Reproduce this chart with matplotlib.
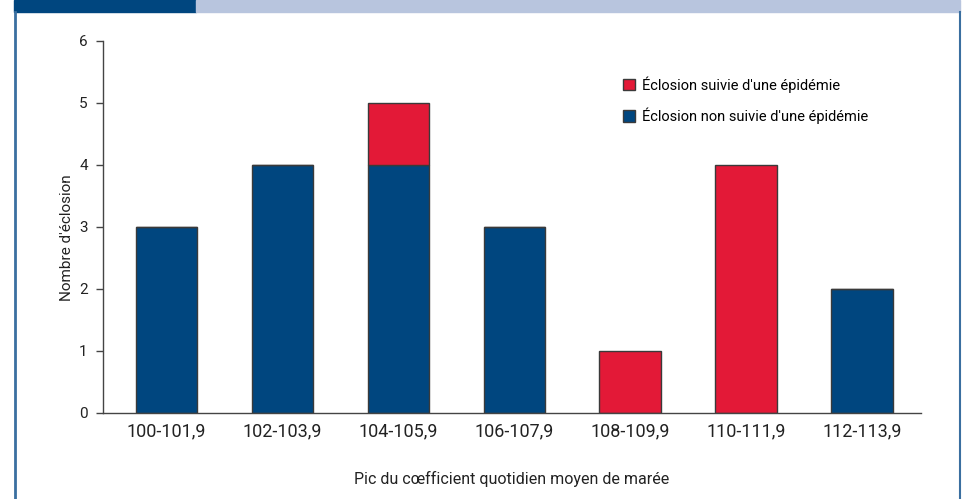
import numpy as np
import matplotlib.pyplot as plt
from matplotlib.patches import Rectangle, Patch
from matplotlib.lines import Line2D

# Données
classes = ['100-101,9', '102-103,9', '104-105,9', '106-107,9',
           '108-109,9', '110-111,9', '112-113,9']
non_suivie = [3, 4, 4, 3, 0, 0, 2]
suivie = [0, 0, 1, 0, 1, 4, 0]

bleu = '#00467f'
rouge = '#e31937'
contour = '#3a3a3a'

plt.rcParams['font.family'] = ['Roboto', 'DejaVu Sans']

fig = plt.figure(figsize=(9.66, 4.99), dpi=100)

# Bandeau et cadre
fig.patches.append(Rectangle((14 / 966, 1 - 12 / 499), 182 / 966, 12 / 499,
                             transform=fig.transFigure, color='#00467f', zorder=0))
fig.patches.append(Rectangle((196 / 966, 1 - 12 / 499), 764 / 966, 12 / 499,
                             transform=fig.transFigure, color='#b8c5de', zorder=0))
fig.lines.append(Line2D([14.5 / 966, 14.5 / 966], [0, 1 - 12 / 499],
                        transform=fig.transFigure, color='#3a6fa0', lw=2))
fig.lines.append(Line2D([960 / 966, 960 / 966], [0, 1 - 12 / 499],
                        transform=fig.transFigure, color='#3a6fa0', lw=1.5))

ax = fig.add_axes([103 / 966, 1 - 413 / 499, 818 / 966, 372 / 499])
x = np.arange(len(classes))
largeur = 0.53
ax.bar(x, non_suivie, largeur, color=bleu, edgecolor=contour, linewidth=1,
       zorder=2)
ax.bar(x, suivie, largeur, bottom=non_suivie, color=rouge, edgecolor=contour,
       linewidth=1, zorder=2)

ax.set_xlim(-0.55, 6.51)
ax.set_ylim(0, 6)
ax.set_yticks(range(7))
ax.set_xticks(x)
ax.set_xticklabels(classes, fontsize=13, color='#222222')
ax.tick_params(axis='x', length=0, pad=7)
ax.tick_params(axis='y', length=5, width=1, color='#444444', labelsize=11,
               labelcolor='#222222', pad=6)
for s in ['top', 'right']:
    ax.spines[s].set_visible(False)
for s in ['left', 'bottom']:
    ax.spines[s].set_color('#444444')
    ax.spines[s].set_linewidth(1)

ax.set_ylabel("Nombre d'éclosion", fontsize=11, color='#222222')
ax.yaxis.set_label_coords(-0.036, 0.47)
ax.set_xlabel('Pic du cœfficient quotidien moyen de marée', fontsize=11.5,
              color='#222222', labelpad=22)

handles = [Patch(facecolor=rouge, edgecolor=contour, label="Éclosion suivie d'une épidémie"),
           Patch(facecolor=bleu, edgecolor=contour, label="Éclosion non suivie d'une épidémie")]
ax.legend(handles=handles, loc='upper left', bbox_to_anchor=(0.62, 0.94),
          frameon=False, fontsize=10.5, handlelength=0.8, handleheight=0.8,
          handletextpad=0.5, labelspacing=1.0)

fig.savefig('out.png', dpi=100)
